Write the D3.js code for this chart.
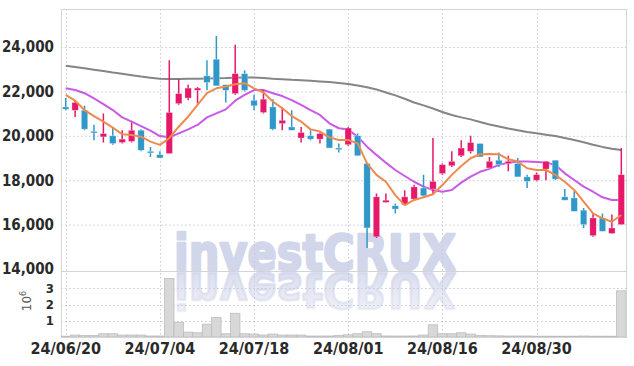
<!DOCTYPE html>
<html lang="en">
<head>
<meta charset="UTF-8">
<title>investCRUX daily chart</title>
<style>
  body { margin: 0; background: #fff; }
  .axis text { font-family: "Liberation Sans Narrow", "DejaVu Sans Condensed", sans-serif; }
</style>
</head>
<body>
<svg width="634" height="366"></svg>
<script src="https://d3js.org/d3.v7.min.js"></script>
<script>

// trading days shown on the chart
var dates = [
  "2024-06-20","2024-06-21","2024-06-24","2024-06-25","2024-06-26","2024-06-27","2024-06-28",
  "2024-07-01","2024-07-02","2024-07-03","2024-07-04","2024-07-05","2024-07-08","2024-07-09",
  "2024-07-10","2024-07-11","2024-07-12","2024-07-15","2024-07-16","2024-07-17","2024-07-18",
  "2024-07-19","2024-07-22","2024-07-23","2024-07-24","2024-07-25","2024-07-26","2024-07-29",
  "2024-07-30","2024-07-31","2024-08-01","2024-08-02","2024-08-05","2024-08-06","2024-08-07",
  "2024-08-08","2024-08-09","2024-08-12","2024-08-13","2024-08-14","2024-08-16","2024-08-19",
  "2024-08-20","2024-08-21","2024-08-22","2024-08-23","2024-08-26","2024-08-27","2024-08-28",
  "2024-08-29","2024-08-30","2024-09-02","2024-09-03","2024-09-04","2024-09-05","2024-09-06",
  "2024-09-09","2024-09-10","2024-09-11","2024-09-12"
];

var open  = [21300,21150,21150,20200,19950,20000,19700,19750,20250,19300,19150,19200,21450,21700,22050,
             22700,23450,22300,21900,22800,21600,21050,21300,20550,20400,19900,20000,19850,20300,19450,
             19600,20000,18750,15450,17000,16850,16900,17150,17650,17600,18300,18650,19100,19300,19650,
             18550,18900,18750,18750,18150,18000,18500,18900,17250,17200,16650,15500,16300,15600,16000];
var high  = [21700,21600,21350,20500,21000,20400,20250,20600,20300,19500,19300,23400,22550,22300,22200,
             23400,24500,22300,24100,22950,21850,22050,21650,21300,21150,20400,20250,20150,20300,19650,
             20400,20100,18750,17400,17400,16950,17550,17800,18250,19900,18750,19300,19800,20000,19650,
             19050,19250,19100,19000,18250,18350,18850,18900,17600,17500,16750,16500,16500,16450,19450];
var low   = [21150,20850,20250,19800,19700,19600,19650,19700,19300,19050,19000,19200,21400,21600,21450,
             22050,22250,21500,21850,22000,21150,21000,20250,20250,20250,19700,19800,19650,19450,19250,
             19550,19100,14950,15400,17000,16500,16850,17100,17250,17350,18250,18600,19050,19200,19050,
             18550,18600,18400,18150,17650,17950,18000,18000,17100,16600,15850,15450,15700,15600,16000];
var close = [21200,21500,20300,20150,20100,19650,19850,20250,19350,19250,19000,21050,21900,22150,22150,
             22400,22250,22050,22800,22050,21350,21650,20300,20700,20250,20150,19850,20100,19450,19400,
             20350,19100,15850,17250,17100,16700,17250,17700,17300,17950,18700,18850,19450,19700,19050,
             18850,18700,18850,18150,17950,18250,18850,18050,17100,16600,16000,16300,15700,15850,18250];
var volume = [50000,120000,100000,100000,200000,200000,120000,120000,120000,60000,60000,3600000,910000,300000,260000,
              790000,1200000,200000,1460000,200000,180000,120000,180000,120000,120000,120000,60000,60000,60000,100000,
              140000,200000,320000,200000,60000,60000,60000,60000,120000,750000,200000,200000,260000,180000,100000,
              80000,70000,60000,60000,60000,50000,50000,50000,50000,50000,60000,50000,50000,50000,2840000];

// moving averages as drawn (short / mid / long)
var maShort = [21840,21580,21160,20890,20640,20370,20070,20040,19960,19740,19590,19890,20410,20860,21390,
               21920,22140,22220,22320,22370,22140,21950,21540,21240,20890,20640,20290,20190,19930,19810,
               19810,19660,18760,18240,17930,17330,16880,17110,17230,17370,17780,18240,18640,18990,19170,
               19180,19170,18940,18840,18540,18460,18460,18240,17930,17560,17030,16510,16280,16130,16430];
var maMid   = [22140,22060,21920,21690,21430,21160,20830,20640,20440,20230,19990,19930,20110,20290,20490,
               20830,21010,21190,21580,21840,22060,22060,21920,21790,21610,21390,21160,20940,20560,20340,
               20280,19960,19510,19140,18790,18460,18190,17930,17710,17560,17480,17560,17890,18160,18380,
               18510,18690,18790,18840,18840,18820,18800,18690,18310,18010,17710,17480,17230,17110,17110];
var maLong  = [23160,23100,23040,22980,22920,22850,22790,22730,22670,22620,22570,22560,22560,22570,22570,
               22580,22590,22600,22620,22630,22630,22600,22570,22550,22520,22500,22480,22450,22420,22380,
               22330,22270,22190,22090,21950,21820,21670,21500,21370,21230,21070,20940,20830,20740,20620,
               20510,20420,20330,20250,20170,20110,20050,19990,19900,19810,19710,19600,19500,19420,19360];

var priceTicks = [14000, 16000, 18000, 20000, 22000, 24000];
var volumeTicks = [1000000, 2000000, 3000000];
var tickDates = ["2024-06-20","2024-07-04","2024-07-18","2024-08-01","2024-08-16","2024-08-30"];

var upColor = "#e5186a", downColor = "#2f98c8";
var gridColor = "#c6c9dd", frameColor = "#d4d4d4", markColor = "#d2d6ea";

var svg = d3.select("svg");
var plot = {left: 61, right: 626, top: 9, sep: 271.5, bottom: 337};

var x = d3.scaleBand().domain(dates).range([plot.left, plot.right]);
var y = d3.scaleLinear().domain([14000, 24000]).range([269, 47]);
var yVol = d3.scaleLinear().domain([0, 4000000]).range([plot.bottom, 272]);
var cx = function(d) { return x(d) + x.bandwidth() / 2; };

var defs = svg.append("defs");
defs.append("clipPath").attr("id", "priceClip")
    .append("rect").attr("x", plot.left).attr("y", plot.top)
    .attr("width", plot.right - plot.left).attr("height", plot.sep - plot.top);
defs.append("clipPath").attr("id", "volClip")
    .append("rect").attr("x", plot.left).attr("y", plot.sep)
    .attr("width", plot.right - plot.left).attr("height", plot.bottom - plot.sep);
var fade = defs.append("linearGradient").attr("id", "fade")
    .attr("x1", 0).attr("y1", 0).attr("x2", 0).attr("y2", 1);
fade.append("stop").attr("offset", "0%").attr("stop-color", markColor).attr("stop-opacity", 0.25);
fade.append("stop").attr("offset", "100%").attr("stop-color", markColor).attr("stop-opacity", 0.95);

// watermark + reflection
function watermark(g, paint) {
  return g.append("text")
      .attr("x", 174).attr("y", 270)
      .attr("textLength", 282).attr("lengthAdjust", "spacingAndGlyphs")
      .attr("font-family", "'DejaVu Sans', 'Liberation Sans', sans-serif")
      .attr("font-weight", "900").attr("font-size", 50)
      .attr("fill", paint).attr("stroke", paint).attr("stroke-width", 2.5)
      .attr("stroke-linejoin", "round")
      .text("investCRUX");
}
var mark = svg.append("g");
watermark(mark, markColor);
watermark(mark.append("g").attr("clip-path", "url(#volClip)"), "url(#fade)")
    .attr("transform", "translate(0,543) scale(1,-1)");

// grid
var grid = svg.append("g").attr("stroke", gridColor).attr("stroke-dasharray", "1.5,2.5");
grid.selectAll(".hp").data(priceTicks.slice(1)).enter().append("line")
    .attr("x1", plot.left).attr("x2", plot.right)
    .attr("y1", function(d) { return y(d) + 0.5; }).attr("y2", function(d) { return y(d) + 0.5; });
grid.selectAll(".hv").data(volumeTicks).enter().append("line")
    .attr("x1", plot.left).attr("x2", plot.right)
    .attr("y1", function(d) { return Math.round(yVol(d)) + 0.5; })
    .attr("y2", function(d) { return Math.round(yVol(d)) + 0.5; });
grid.selectAll(".v").data(tickDates).enter().append("line")
    .attr("x1", function(d) { return Math.round(cx(d)) + 0.5; })
    .attr("x2", function(d) { return Math.round(cx(d)) + 0.5; })
    .attr("y1", plot.top).attr("y2", plot.bottom);

// frame
var frame = svg.append("g").attr("stroke", frameColor).attr("fill", "none");
frame.append("rect").attr("x", plot.left + 0.5).attr("y", plot.top + 0.5)
    .attr("width", plot.right - plot.left).attr("height", plot.bottom - plot.top);
frame.append("line").attr("x1", plot.left).attr("x2", plot.right)
    .attr("y1", plot.sep).attr("y2", plot.sep);

// volume bars
svg.append("g").attr("clip-path", "url(#volClip)")
  .selectAll("rect").data(dates).enter().append("rect")
    .attr("x", function(d) { return x(d); })
    .attr("width", x.bandwidth())
    .attr("y", function(d, i) { return yVol(volume[i]); })
    .attr("height", function(d, i) { return yVol(0) - yVol(volume[i]); })
    .attr("fill", "#d8d8d8").attr("stroke", "#bcbcbc").attr("stroke-width", 0.8);

var price = svg.append("g").attr("clip-path", "url(#priceClip)");

// moving averages
function maLine(values, color) {
  var line = d3.line()
      .x(function(d, i) { return cx(dates[i]); })
      .y(function(d) { return y(d); });
  price.append("path").datum(values)
      .attr("fill", "none").attr("stroke", color).attr("stroke-width", 2)
      .attr("stroke-linejoin", "round")
      .attr("d", line);
}
maLine(maLong, "#858585");
maLine(maMid, "#c95ae6");

// candles
var candles = price.selectAll(".candle").data(dates).enter().append("g");
candles.append("line")
    .attr("x1", cx).attr("x2", cx)
    .attr("y1", function(d, i) { return y(high[i]); })
    .attr("y2", function(d, i) { return y(low[i]); })
    .attr("stroke", function(d, i) { return close[i] >= open[i] ? upColor : downColor; })
    .attr("stroke-width", 1.5);
var bodyW = x.bandwidth() * 0.68;
candles.append("rect")
    .attr("x", function(d) { return cx(d) - bodyW / 2; })
    .attr("width", bodyW)
    .attr("y", function(d, i) { return y(Math.max(open[i], close[i])); })
    .attr("height", function(d, i) { return Math.max(1.6, Math.abs(y(open[i]) - y(close[i]))); })
    .attr("fill", function(d, i) { return close[i] >= open[i] ? upColor : downColor; })
    .attr("stroke", "#fff").attr("stroke-opacity", 0.5).attr("stroke-width", 0.6);

maLine(maShort, "#ee8a4e");

// axes
var axisText = function(g, size) {
  g.attr("class", "axis");
  g.select(".domain").remove();
  g.selectAll(".tick line").remove();
  g.selectAll("text").attr("fill", "#2a2a2a")
      .style("font-size", size).style("font-weight", "bold");
};

svg.append("g").attr("transform", "translate(" + (plot.left - 1) + ",0)")
    .call(d3.axisLeft(y).tickValues(priceTicks).tickFormat(d3.format(",")).tickSize(0).tickPadding(6))
    .call(axisText, "15px");

svg.append("g").attr("transform", "translate(" + (plot.left - 1) + ",0)")
    .call(d3.axisLeft(yVol).tickValues(volumeTicks).tickFormat(function(d) { return d / 1e6; })
          .tickSize(0).tickPadding(6))
    .call(axisText, "13px");

svg.append("g").attr("transform", "translate(0," + (plot.bottom + 3) + ")")
    .call(d3.axisBottom(x).tickValues(tickDates)
          .tickFormat(function(d) { return d.slice(2).replace(/-/g, "/"); })
          .tickSize(0).tickPadding(3))
    .call(axisText, "16px");

// 10^6 unit label
var unit = svg.append("text")
    .attr("transform", "translate(31,301) rotate(-90)")
    .attr("text-anchor", "middle")
    .attr("fill", "#555")
    .attr("font-family", "'DejaVu Sans', sans-serif")
    .attr("font-size", 12);
unit.append("tspan").text("10");
unit.append("tspan").attr("dy", -5).attr("font-size", 8).text("6");

</script>
</body>
</html>
